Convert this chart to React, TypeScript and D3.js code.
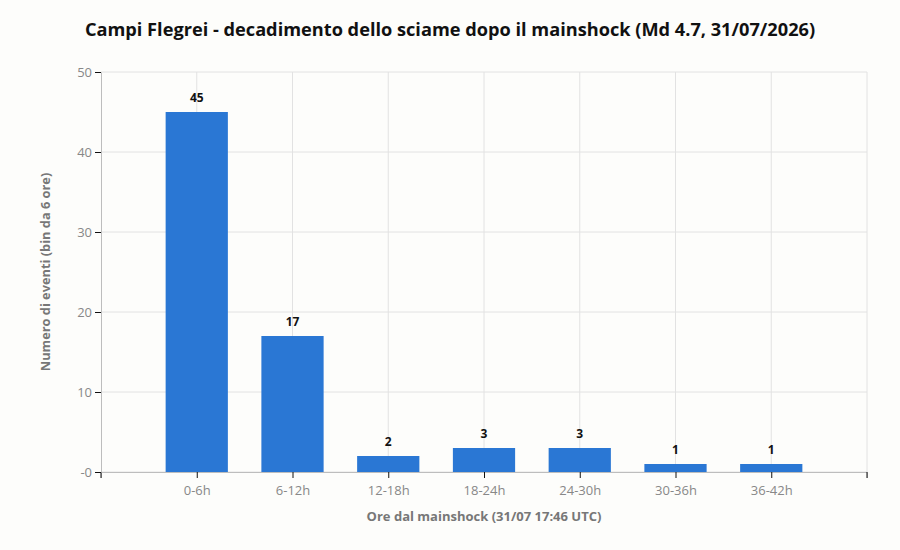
import { useRef, useEffect } from "react";
import * as d3 from "d3";

const bins = ["0-6h", "6-12h", "12-18h", "18-24h", "24-30h", "30-36h", "36-42h"];
const counts = [45, 17, 2, 3, 3, 1, 1];
const yTicks = [0, 10, 20, 30, 40, 50];

const title = "Campi Flegrei - decadimento dello sciame dopo il mainshock (Md 4.7, 31/07/2026)";
const xTitle = "Ore dal mainshock (31/07 17:46 UTC)";
const yTitle = "Numero di eventi (bin da 6 ore)";

export default function App() {
    const ref = useRef(null);

    const width = 900;
    const height = 550;
    const margin = { top: 72, right: 33, bottom: 78, left: 101 };

    useEffect(() => {
        document.body.style.margin = "0";
        document.body.style.background = "#fdfdfb";

        const svg = d3.select(ref.current);
        svg.selectAll("*").remove();

        const font = "'Open Sans', 'Noto Sans', sans-serif";

        const x = d3.scaleLinear()
            .domain([-1, bins.length])
            .range([margin.left, width - margin.right]);

        const y = d3.scaleLinear()
            .domain([0, 50])
            .range([height - margin.bottom, margin.top]);

        const step = x(1) - x(0);
        const barWidth = step * 0.65;

        svg.append("rect")
            .attr("width", width)
            .attr("height", height)
            .attr("fill", "#fdfdfb");

        // grid
        const grid = svg.append("g");
        grid.selectAll("line.h")
            .data(yTicks)
            .join("line")
                .attr("x1", margin.left)
                .attr("x2", width - margin.right)
                .attr("y1", d => y(d))
                .attr("y2", d => y(d))
                .attr("stroke", "#e2e2e2");
        grid.selectAll("line.v")
            .data([...d3.range(bins.length), bins.length])
            .join("line")
                .attr("x1", d => x(d))
                .attr("x2", d => x(d))
                .attr("y1", margin.top)
                .attr("y2", height - margin.bottom)
                .attr("stroke", "#e2e2e2");

        // bars
        svg.append("g")
            .selectAll("rect")
            .data(counts)
            .join("rect")
                .attr("x", (d, i) => x(i) - barWidth / 2)
                .attr("y", d => y(d))
                .attr("width", barWidth)
                .attr("height", d => y(0) - y(d))
                .attr("fill", "#2a77d4");

        svg.append("g")
            .selectAll("text")
            .data(counts)
            .join("text")
                .attr("x", (d, i) => x(i))
                .attr("y", d => y(d) - 10)
                .attr("text-anchor", "middle")
                .attr("font-family", font)
                .attr("font-size", 12)
                .attr("font-weight", "bold")
                .attr("fill", "#111")
                .text(d => d);

        // axes
        const xAxis = svg.append("g")
            .attr("transform", `translate(0,${y(0)})`)
            .call(d3.axisBottom(x)
                .tickValues(d3.range(bins.length))
                .tickFormat((d) => bins[+d])
                .tickSize(6)
                .tickSizeOuter(6));
        xAxis.select(".domain").attr("stroke", "#bdbdbd");
        xAxis.selectAll(".tick line").attr("stroke", "#111");
        xAxis.selectAll(".tick text")
            .attr("font-family", font)
            .attr("font-size", 13)
            .attr("fill", "#888")
            .attr("dy", "1.05em");
        // outer ticks drawn in black
        xAxis.selectAll("line.end")
            .data(x.range())
            .join("line")
                .attr("x1", d => d)
                .attr("x2", d => d)
                .attr("y1", 0)
                .attr("y2", 6)
                .attr("stroke", "#111");

        const yAxis = svg.append("g")
            .attr("transform", `translate(${margin.left},0)`)
            .call(d3.axisLeft(y)
                .tickValues(yTicks)
                .tickFormat(d => (+d === 0 ? "-0" : String(d)))
                .tickSize(6)
                .tickSizeOuter(0));
        yAxis.select(".domain").attr("stroke", "#bdbdbd");
        yAxis.selectAll(".tick line").attr("stroke", "#111");
        yAxis.selectAll(".tick text")
            .attr("font-family", font)
            .attr("font-size", 13)
            .attr("fill", "#888");

        // titles
        svg.append("text")
            .attr("x", width / 2)
            .attr("y", 36)
            .attr("text-anchor", "middle")
            .attr("font-family", font)
            .attr("font-size", 18.2)
            .attr("font-weight", "bold")
            .attr("fill", "#111")
            .text(title);

        svg.append("text")
            .attr("x", (x.range()[0] + x.range()[1]) / 2)
            .attr("y", 521)
            .attr("text-anchor", "middle")
            .attr("font-family", font)
            .attr("font-size", 13)
            .attr("font-weight", "bold")
            .attr("fill", "#777")
            .text(xTitle);

        svg.append("text")
            .attr("transform", `translate(50,${(y(0) + y(50)) / 2}) rotate(-90)`)
            .attr("text-anchor", "middle")
            .attr("font-family", font)
            .attr("font-size", 12.8)
            .attr("font-weight", "bold")
            .attr("fill", "#777")
            .text(yTitle);
    }, [ref]);

    return (
        <svg ref={ref} width={width} height={height} style={{ display: "block" }} />
    );
}
